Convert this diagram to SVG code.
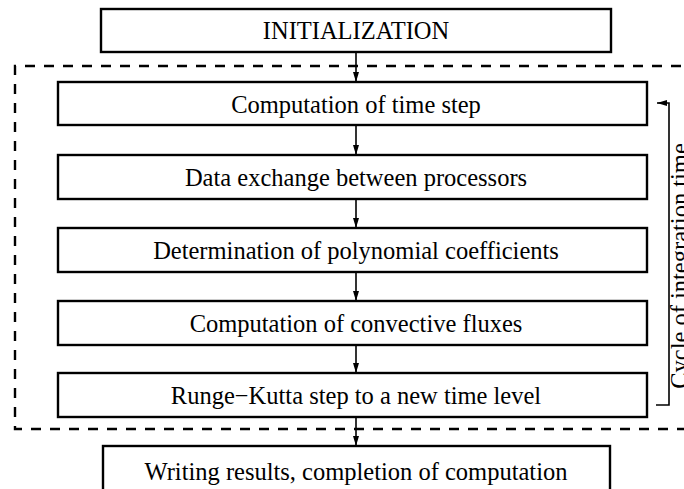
<svg xmlns="http://www.w3.org/2000/svg" width="684" height="489" viewBox="0 0 684 489">
  <style>
    .box { fill: #fff; stroke: #000; stroke-width: 2.4; }
    .lbl { font-family: "Liberation Serif", "Times New Roman", serif; font-size: 24.5px; fill: #000; text-anchor: middle; }
    .edge { stroke: #000; stroke-width: 1.6; fill: none; marker-end: url(#arr); }
    .frame { fill: none; stroke: #000; stroke-width: 2.4; stroke-dasharray: 10 9; }
  </style>
  <defs>
    <marker id="arr" viewBox="0 0 10 10" refX="10" refY="5" markerWidth="10" markerHeight="10" markerUnits="userSpaceOnUse" orient="auto">
      <path d="M0,2 L10,5 L0,8 Z" fill="#000"/>
    </marker>
  </defs>
  <rect width="684" height="489" fill="#fff"/>

  <!-- loop frame (open on the right side) -->
  <path class="frame" d="M700,66 H15 V429 H700"/>

  <g id="init">
    <rect class="box" x="101" y="9" width="510" height="43"/>
    <text class="lbl" x="356" y="38.5">INITIALIZATION</text>
  </g>
  <g id="timestep">
    <rect class="box" x="58" y="82" width="589" height="43"/>
    <text class="lbl" x="356" y="113">Computation of time step</text>
  </g>
  <g id="exchange">
    <rect class="box" x="58" y="155" width="589" height="44"/>
    <text class="lbl" x="356" y="186">Data exchange between processors</text>
  </g>
  <g id="coeffs">
    <rect class="box" x="58" y="228" width="589" height="44"/>
    <text class="lbl" x="356" y="259">Determination of polynomial coefficients</text>
  </g>
  <g id="fluxes">
    <rect class="box" x="58" y="301" width="589" height="44"/>
    <text class="lbl" x="356" y="332">Computation of convective fluxes</text>
  </g>
  <g id="rk">
    <rect class="box" x="58" y="373" width="589" height="44"/>
    <text class="lbl" x="356" y="404">Runge−Kutta step to a new time level</text>
  </g>
  <g id="output">
    <rect class="box" x="103" y="446" width="507" height="60"/>
    <text class="lbl" x="356" y="480">Writing results, completion of computation</text>
  </g>

  <g id="connectors">
    <line class="edge" x1="356" y1="52" x2="356" y2="82"/>
    <line class="edge" x1="356" y1="125" x2="356" y2="155"/>
    <line class="edge" x1="356" y1="199" x2="356" y2="228"/>
    <line class="edge" x1="356" y1="272" x2="356" y2="301"/>
    <line class="edge" x1="356" y1="345" x2="356" y2="373"/>
    <line class="edge" x1="356" y1="417" x2="356" y2="446"/>
    <!-- return bracket of the time loop -->
    <path class="edge" d="M656,405 H669 V103 H657"/>
  </g>

  <g id="loop-label">
    <text class="lbl" transform="translate(688,266) rotate(-90)">Cycle of integration time</text>
  </g>
</svg>
